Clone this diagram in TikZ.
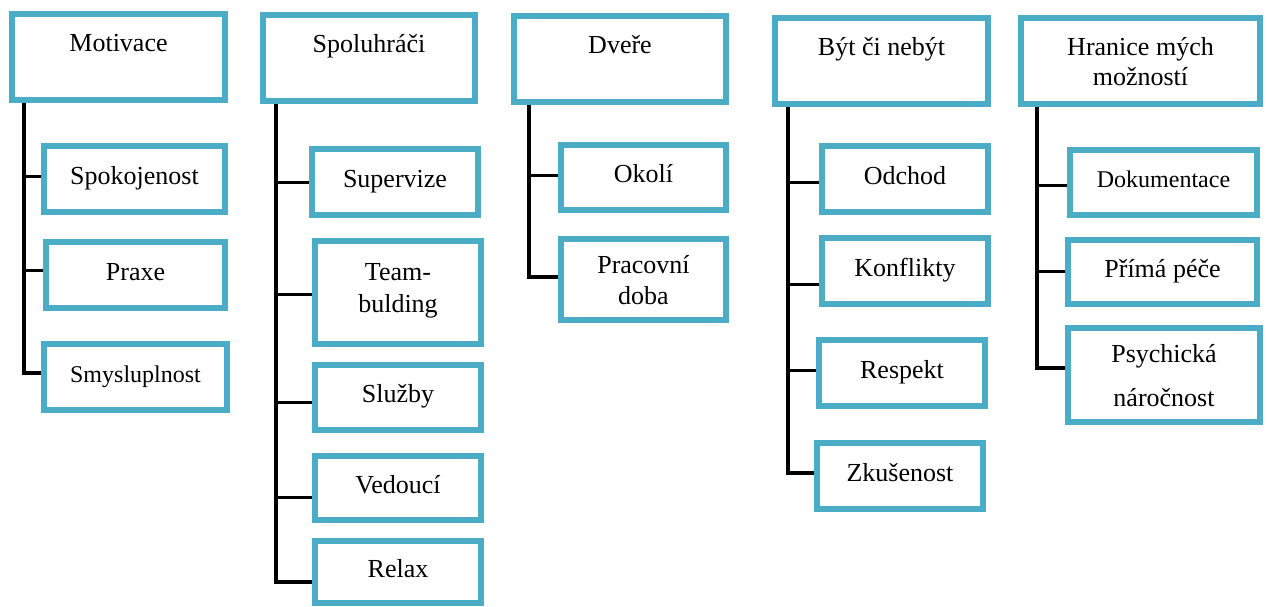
\documentclass[tikz,border=0pt]{standalone}
\usepackage{fontspec}
\setmainfont{Liberation Serif}
\usetikzlibrary{positioning,backgrounds}
\definecolor{boxblue}{RGB}{75,172,198}
% side branch from a trunk to one box, shifted up/down by #3
\newcommand{\branch}[3]{%
    \coordinate (#2-t) at ([yshift=#3pt]#2.west);
    \draw[twig] (#2-t) -- (#2-t -| #1);}

\begin{document}
\begin{tikzpicture}[
        x=1pt, y=-1pt,
        head/.style={draw=boxblue, line width=6pt, fill=white, align=center, inner sep=0pt,
            font=\fontsize{26}{30}\selectfont, minimum width=213pt, minimum height=86pt,
            text height=18pt, text depth=30pt},
        item/.style={draw=boxblue, line width=6pt, fill=white, align=center, inner sep=0pt,
            font=\fontsize{26}{30}\selectfont, minimum width=166pt, minimum height=66pt,
            text height=18pt, text depth=8pt},
        small/.style={font=\fontsize{24}{28}\selectfont},
        trunk/.style={line width=4pt},
        twig/.style={line width=3pt}
    ]
        \useasboundingbox (0,0) rectangle (1267,606);

        % Motivace
        \node[head] (mot) at (118.5,57) {Motivace};
        \node[item, minimum width=181pt] (spok) at (134.5,179) {Spokojenost};
        \node[item, minimum width=179pt] (praxe) at (135.5,275) {Praxe};
        \node[item, small, minimum width=183pt] (smysl) at (135.5,377) {Smysluplnost};

        % Spoluhraci
        \node[head, minimum width=212pt] (spol) at (369,58) {Spoluhráči};
        \node[item] (superv) at (395,182) {Supervize};
        \node[item, minimum height=103pt, text height=50pt, text depth=11pt] (team) at (398,292.5) {Team-\\[2pt]bulding};
        \node[item, minimum height=65pt] (sluzby) at (398,397.5) {Služby};
        \node[item, minimum height=64pt] (vedouci) at (398,488) {Vedoucí};
        \node[item, minimum height=62pt] (relax) at (398,572) {Relax};

        % Dvere
        \node[head, minimum width=212pt] (dvere) at (620,59) {Dveře};
        \node[item, minimum width=165pt, minimum height=65pt] (okoli) at (643.5,177.5) {Okolí};
        \node[item, minimum width=165pt, minimum height=81pt, text height=49pt, text depth=-4pt] (pracdoba) at (643.5,279.5) {Pracovní\\[1pt]doba};

        % Byt ci nebyt
        \node[head] (byt) at (881.5,61) {Být či nebýt};
        \node[item] (odchod) at (905,179) {Odchod};
        \node[item] (konfl) at (905,271) {Konflikty};
        \node[item] (respekt) at (902,373) {Respekt};
        \node[item] (zkus) at (900,476) {Zkušenost};

        % Hranice mych moznosti
        \node[head, minimum width=239pt, text height=48pt, text depth=-2pt] (hranice) at (1140.5,61) {Hranice mých\\možností};
        \node[item, small, minimum width=187pt, minimum height=65pt] (dokum) at (1163.5,182.5) {Dokumentace};
        \node[item, minimum width=189pt, minimum height=64pt] (prima) at (1162.5,272) {Přímá péče};
        \node[item, minimum width=192pt, minimum height=94pt, text height=62pt, text depth=-8pt] (psych) at (1164,375) {Psychická\\[14pt]náročnost};

        % Connectors
        \begin{scope}[on background layer]
            \coordinate (motv) at (24,103);
            \coordinate (spolv) at (276,104);
            \coordinate (dvere-v) at (529,105);
            \coordinate (bytv) at (788,107);
            \coordinate (hranv) at (1037,107);

            \branch{motv}{spok}{3}
            \branch{motv}{praxe}{5}
            \branch{motv}{smysl}{4}
            \draw[trunk] (motv) |- (smysl-t);

            \branch{spolv}{superv}{0}
            \branch{spolv}{team}{-1.5}
            \branch{spolv}{sluzby}{-4.5}
            \branch{spolv}{vedouci}{-9}
            \branch{spolv}{relax}{-10}
            \draw[trunk] (spolv) |- (relax-t);

            \branch{dvere-v}{okoli}{2.5}
            \branch{dvere-v}{pracdoba}{2.5}
            \draw[trunk] (dvere-v) |- (pracdoba-t);

            \branch{bytv}{odchod}{-3}
            \branch{bytv}{konfl}{-13}
            \branch{bytv}{respekt}{3}
            \branch{bytv}{zkus}{3}
            \draw[trunk] (bytv) |- (zkus-t);

            \branch{hranv}{dokum}{-2.5}
            \branch{hranv}{prima}{1}
            \branch{hranv}{psych}{7}
            \draw[trunk] (hranv) |- (psych-t);
        \end{scope}
    \end{tikzpicture}
\end{document}
